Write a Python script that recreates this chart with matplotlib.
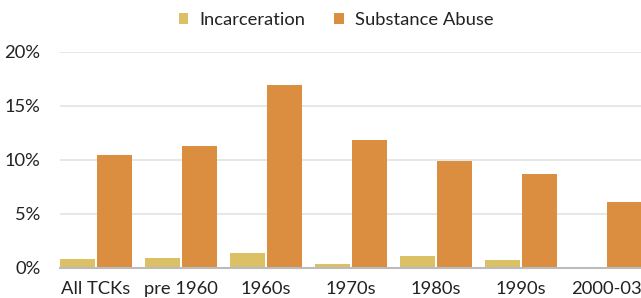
import matplotlib
matplotlib.use("Agg")
import matplotlib.pyplot as plt
import numpy as np
from matplotlib.ticker import FuncFormatter

categories = ["All TCKs", "pre 1960", "1960s", "1970s", "1980s", "1990s", "2000-03"]
incarceration = [0.75, 0.85, 1.3, 0.3, 1.1, 0.72, 0.0]
substance_abuse = [10.4, 11.3, 16.9, 11.8, 9.9, 8.7, 6.1]
yticks = [0, 5, 10, 15, 20]

plt.rcParams['font.family'] = ['Lato', 'DejaVu Sans']

W, H = 641, 298
fig = plt.figure(figsize=(W / 100, H / 100), dpi=100)
left, right = 60, 641
bottom, top = 298 - 267.5, 298 - 52
ax = fig.add_axes([left / W, bottom / H, (right - left) / W, (top - bottom) / H])

x = np.arange(len(categories))
bw = 0.41
c_inc = "#DBC066"
c_sub = "#DB8E3F"
ax.bar(x - 0.215, incarceration, bw, color=c_inc, label="Incarceration", zorder=3)
ax.bar(x + 0.22, substance_abuse, bw, color=c_sub, label="Substance Abuse", zorder=3)

ax.set_xlim(-0.424, 6.41)
ax.set_ylim(0, 20)
ax.set_yticks(yticks)
ax.yaxis.set_major_formatter(FuncFormatter(lambda v, p: f"{v:.0f}%"))
ax.set_xticks(x)
ax.set_xticklabels(categories)
ax.grid(axis="y", color="#E3E3E3", linewidth=1.2, zorder=0)
for s in ["top", "right", "left"]:
    ax.spines[s].set_visible(False)
ax.spines["bottom"].set_color("#BBBBBB")
ax.spines["bottom"].set_linewidth(1.5)
ax.spines["bottom"].set_zorder(4)
ax.tick_params(axis="both", length=0, labelsize=13.2, colors="#222222")
ax.tick_params(axis="y", pad=14)
ax.tick_params(axis="x", pad=10)

leg = fig.legend(loc="center", bbox_to_anchor=(336 / W, 1 - 20 / H), ncol=2, frameon=False,
                 fontsize=13.2, handlelength=0.5, handleheight=0.5, handletextpad=0.6,
                 columnspacing=1.6)
for t in leg.get_texts():
    t.set_color("#222222")

fig.savefig("out.png", dpi=100)
